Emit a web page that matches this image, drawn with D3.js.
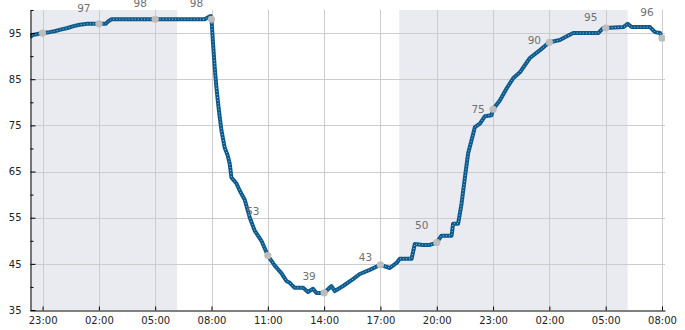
<!DOCTYPE html>
<html>
<head>
<meta charset="utf-8">
<script src="https://cdn.jsdelivr.net/npm/d3@7"></script>
<style>
    body { margin: 0; background: #fff; }
    text { font-family: 'DejaVu Sans', sans-serif; }
</style>
</head>
<body>
<div id="chart"></div>
<script>
// hours counted from midnight of the first day (26 = 02:00 next day)
var hours = [22.33, 22.47, 22.73, 23.0, 23.37, 23.64, 24.01, 24.33, 24.65, 24.97, 25.4, 26.0, 26.36, 26.52, 26.68,
    29.0, 31.64, 31.85, 31.96, 32.0, 32.08, 32.17, 32.26, 32.35, 32.44, 32.53, 32.70, 32.86, 32.97, 33.06,
    33.33, 33.50, 33.77, 34.04, 34.30, 34.66, 35.0, 35.37, 35.72, 35.99, 36.17, 36.43, 36.88, 37.14, 37.41,
    37.59, 38.0, 38.39, 38.57, 39.01, 39.54, 39.90, 40.43, 41.0, 41.50, 41.86, 42.03, 42.66, 42.83, 43.26,
    43.63, 44.0, 44.25, 44.79, 44.87, 45.14, 45.32, 45.50, 45.67, 45.85, 46.03, 46.30, 46.57, 46.92, 47.0,
    47.36, 47.72, 48.07, 48.43, 48.96, 49.50, 50.0, 50.56, 50.83, 51.27, 52.60, 52.87, 53.0, 53.94, 54.17,
    54.38, 55.36, 55.63, 55.90, 56.0];
var values = [94.1, 94.6, 94.8, 95.0, 95.2, 95.4, 95.8, 96.1, 96.5, 96.8, 97.0, 97.0, 97.0, 97.6, 98.0,
    98.0, 98.0, 98.5, 98.7, 98.0, 92.8, 87.6, 83.3, 79.8, 76.7, 73.9, 70.2, 68.5, 66.7, 63.7,
    62.4, 60.9, 58.9, 55.0, 52.2, 50.0, 46.8, 44.6, 43.0, 41.3, 40.9, 39.8, 39.8, 38.9, 39.6,
    38.7, 38.7, 40.2, 39.1, 40.2, 41.7, 42.8, 43.7, 44.8, 44.1, 45.2, 46.1, 46.1, 49.3, 49.1,
    49.1, 49.6, 51.1, 51.1, 53.7, 53.7, 58.0, 63.7, 68.9, 71.7, 74.6, 75.4, 77.0, 77.2, 78.5,
    80.4, 83.0, 85.2, 86.5, 89.6, 91.3, 93.0, 93.5, 94.1, 95.0, 95.0, 96.1, 96.1, 96.3, 97.0,
    96.3, 96.3, 95.2, 95.0, 93.9];

// grey markers every 3 hours and their labels
var markHours = [23, 26, 29, 32, 35, 38, 41, 44, 47, 50, 53, 56];
var markValues = [95, 97, 98, 98, 46.8, 38.7, 44.8, 49.6, 78.5, 93, 96.1, 93.9];
var markLabels = [null, 97, 98, 98, 53, 39, 43, 50, 75, 90, 95, 96];

// shaded night bands
var nightStart = [18, 42];
var nightEnd = [30.17, 54.17];

var xTickHours = [23, 26, 29, 32, 35, 38, 41, 44, 47, 50, 53, 56];
var yMajorTicks = [35, 45, 55, 65, 75, 85, 95];
var yMinorTicks = [40, 50, 60, 70, 80, 90, 100];

var chart_width = 685;
var chart_height = 330;
var plot_left = 30, plot_right = 665, plot_top = 10, plot_bottom = 310;

var base = new Date(2024, 0, 1, 0, 0, 0);
function toDate(h) {
    return new Date(base.getTime() + h * 3600 * 1000);
}

var svg = d3.select('#chart')
    .append('svg')
    .attr('width', chart_width)
    .attr('height', chart_height);

svg.append('clipPath')
    .attr('id', 'plot-clip')
    .append('rect')
    .attr('x', plot_left)
    .attr('y', plot_top)
    .attr('width', plot_right - plot_left)
    .attr('height', plot_bottom - plot_top);

var x_scale = d3.scaleTime()
    .domain([toDate(22.33), toDate(56.16)])
    .range([plot_left, plot_right]);

var y_scale = d3.scaleLinear()
    .domain([35, 100])
    .range([plot_bottom, plot_top]);

var plot = svg.append('g').attr('clip-path', 'url(#plot-clip)');

// night shading
plot.selectAll('rect.night')
    .data(nightStart)
    .enter()
    .append('rect')
    .attr('class', 'night')
    .attr('x', function (d) { return x_scale(toDate(d)); })
    .attr('y', plot_top)
    .attr('width', function (d, i) { return x_scale(toDate(nightEnd[i])) - x_scale(toDate(d)); })
    .attr('height', plot_bottom - plot_top)
    .attr('fill', '#eaebf0');

// grid
plot.selectAll('line.vgrid')
    .data(xTickHours)
    .enter()
    .append('line')
    .attr('class', 'vgrid')
    .attr('x1', function (d) { return Math.round(x_scale(toDate(d))) + 0.5; })
    .attr('x2', function (d) { return Math.round(x_scale(toDate(d))) + 0.5; })
    .attr('y1', plot_top)
    .attr('y2', plot_bottom)
    .attr('stroke', '#cccccc')
    .attr('stroke-width', 1);

plot.selectAll('line.hgrid')
    .data(yMajorTicks)
    .enter()
    .append('line')
    .attr('class', 'hgrid')
    .attr('x1', plot_left)
    .attr('x2', plot_right)
    .attr('y1', function (d) { return Math.round(y_scale(d)) + 0.5; })
    .attr('y2', function (d) { return Math.round(y_scale(d)) + 0.5; })
    .attr('stroke', '#cccccc')
    .attr('stroke-width', 1);

// the series
var line = d3.line()
    .x(function (d, i) { return x_scale(toDate(hours[i])); })
    .y(function (d) { return y_scale(d); });

plot.append('path')
    .datum(values)
    .attr('d', line)
    .attr('fill', 'none')
    .attr('stroke', '#0c5a8b')
    .attr('stroke-width', 4)
    .attr('stroke-linejoin', 'round');

plot.append('path')
    .datum(values)
    .attr('d', line)
    .attr('fill', 'none')
    .attr('stroke', '#9cc0e0')
    .attr('stroke-width', 1)
    .attr('stroke-dasharray', '1,2.1');

// markers
plot.selectAll('circle')
    .data(markHours)
    .enter()
    .append('circle')
    .attr('cx', function (d) { return x_scale(toDate(d)); })
    .attr('cy', function (d, i) { return y_scale(markValues[i]); })
    .attr('r', 3.6)
    .attr('fill', '#bdbdbd');

// marker labels (not clipped)
svg.append('g')
    .selectAll('text')
    .data(markHours.filter(function (d, i) { return markLabels[i] !== null; }))
    .enter()
    .append('text')
    .attr('x', function (d) { return x_scale(toDate(d)) - 15; })
    .attr('y', function (d) { return y_scale(markLabels[markHours.indexOf(d)]) - 12; })
    .attr('text-anchor', 'middle')
    .attr('fill', '#707070')
    .style('font-size', '10.5px')
    .text(function (d) { return markLabels[markHours.indexOf(d)]; });

// axes
var x_axis = d3.axisBottom(x_scale)
    .tickValues(xTickHours.map(toDate))
    .tickFormat(d3.timeFormat('%H:%M'))
    .tickSizeInner(-4)
    .tickSizeOuter(0)
    .tickPadding(6);

svg.append('g')
    .attr('class', 'x-axis')
    .attr('transform', 'translate(0,' + (plot_bottom + 0.5) + ')')
    .call(x_axis);

var y_axis = d3.axisLeft(y_scale)
    .tickValues(yMajorTicks)
    .tickSizeInner(-5)
    .tickSizeOuter(0)
    .tickPadding(9);

svg.append('g')
    .attr('class', 'y-axis')
    .attr('transform', 'translate(' + (plot_left + 0.5) + ',0)')
    .call(y_axis);

var y_minor = d3.axisLeft(y_scale)
    .tickValues(yMinorTicks)
    .tickSizeInner(-3)
    .tickSizeOuter(0)
    .tickFormat('');

svg.append('g')
    .attr('transform', 'translate(' + (plot_left + 0.5) + ',0)')
    .call(y_minor)
    .select('.domain').remove();

svg.selectAll('.x-axis text, .y-axis text')
    .style('font-size', '10px')
    .style('font-family', "'DejaVu Sans', sans-serif")
    .attr('fill', '#222');

svg.selectAll('.domain, .tick line')
    .attr('stroke', '#000');
</script>
</body>
</html>
